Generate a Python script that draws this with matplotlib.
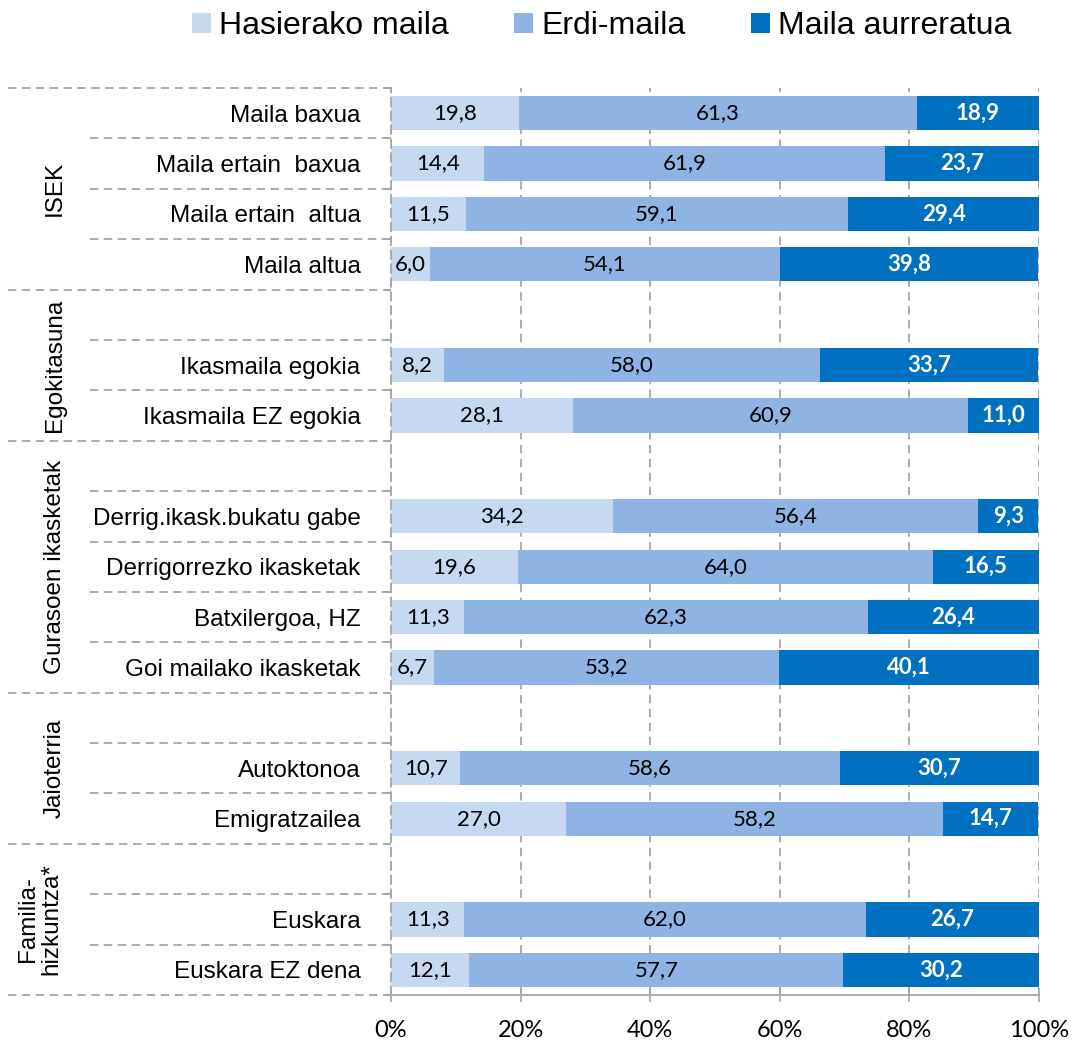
import matplotlib
matplotlib.use('Agg')
import matplotlib.pyplot as plt
import numpy as np
from matplotlib.patches import Patch
from matplotlib.transforms import blended_transform_factory

plt.rcParams['lines.scale_dashes'] = False

categories = ["Maila baxua", "Maila ertain  baxua", "Maila ertain  altua", "Maila altua", "",
              "Ikasmaila egokia", "Ikasmaila EZ egokia", "",
              "Derrig.ikask.bukatu gabe", "Derrigorrezko ikasketak", "Batxilergoa, HZ",
              "Goi mailako ikasketak", "",
              "Autoktonoa", "Emigratzailea", "",
              "Euskara", "Euskara EZ dena"]
nan = np.nan
hasierako = [19.8, 14.4, 11.5, 6.0, nan, 8.2, 28.1, nan, 34.2, 19.6, 11.3, 6.7, nan, 10.7, 27.0, nan, 11.3, 12.1]
erdi = [61.3, 61.9, 59.1, 54.1, nan, 58.0, 60.9, nan, 56.4, 64.0, 62.3, 53.2, nan, 58.6, 58.2, nan, 62.0, 57.7]
aurreratua = [18.9, 23.7, 29.4, 39.8, nan, 33.7, 11.0, nan, 9.3, 16.5, 26.4, 40.1, nan, 30.7, 14.7, nan, 26.7, 30.2]
series_names = ["Hasierako maila", "Erdi-maila", "Maila aurreratua"]
group_names = ["ISEK", "Egokitasuna", "Gurasoen ikasketak", "Jaioterria", "Familia-\nhizkuntza*"]
group_sizes = [4, 3, 5, 3, 3]
xticks = [0, 20, 40, 60, 80, 100]

colors = ["#C6D9F1", "#8EB4E3", "#0070C0"]
text_colors = ["black", "black", "white"]
weights = ["normal", "normal", "bold"]
grid_color = "#A6A6A6"
label_font = "Liberation Sans"
num_font = "Lato"

W, H = 1077, 1043
fig = plt.figure(figsize=(W / 100, H / 100), dpi=100)
ax = fig.add_axes([391 / W, 1 - 995 / H, 648 / W, 907 / H])

y = np.arange(len(categories))
left = np.zeros(len(categories))
for vals, name, c, tc, fw in zip([hasierako, erdi, aurreratua], series_names, colors, text_colors, weights):
    v = np.array(vals, dtype=float)
    bars = ax.barh(y, v, left=left, height=0.68, color=c, label=name, zorder=2)
    labs = ["" if np.isnan(x) else f"{x:.1f}".replace(".", ",") for x in v]
    ax.bar_label(bars, labels=labs, label_type="center", color=tc, fontweight=fw,
                 fontsize=16, family=num_font, zorder=3)
    left = left + np.nan_to_num(v)

ax.set_xlim(0, 100)
ax.set_ylim(len(categories) - 0.5, -0.5)
ax.set_xticks(xticks)
ax.set_xticklabels([f"{t}%" for t in xticks], family=num_font, fontsize=17)
ax.set_yticks(y)
ax.set_yticklabels(categories, family=label_font, fontsize=17.5)
ax.tick_params(axis="y", which="major", length=0, pad=22)
ax.tick_params(axis="x", which="major", direction="inout", length=10, color=grid_color, width=1.2, pad=13)

# boundaries
bounds = np.cumsum([0] + group_sizes)
ax.set_yticks(np.arange(len(categories) + 1) - 0.5, minor=True)
ax.tick_params(axis="y", which="minor", length=5, color=grid_color, width=1.2)

ax.grid(axis="x", color=grid_color, linestyle=(0, (6, 4)), linewidth=1.3, zorder=0)
ax.set_axisbelow(True)
for s in ["top", "right"]:
    ax.spines[s].set_visible(False)
ax.spines["left"].set_color(grid_color)
ax.spines["left"].set_linestyle((0, (6, 4)))
ax.spines["left"].set_linewidth(1.3)
ax.spines["bottom"].set_color(grid_color)
ax.spines["bottom"].set_linewidth(1.3)

tr = blended_transform_factory(ax.transAxes, ax.transData)
x_group = (8 - 391) / 648
x_row = (90 - 391) / 648
for b in bounds:
    ax.plot([x_group, 0], [b - 0.5, b - 0.5], transform=tr, clip_on=False,
            color=grid_color, linestyle=(0, (6, 4)), linewidth=1.3)
for s, n in zip(bounds[:-1], group_sizes):
    for k in range(1, n):
        ax.plot([x_row, 0], [s + k - 0.5, s + k - 0.5], transform=tr, clip_on=False,
                color=grid_color, linestyle=(0, (6, 4)), linewidth=1.3)

for name, s, n in zip(group_names, bounds[:-1], group_sizes):
    xc = (55 - 391) / 648 if "\n" not in name else (40 - 391) / 648
    ax.text(xc, s + (n - 1) / 2, name, transform=tr, rotation=90, ha="center", va="center",
            family=label_font, fontsize=17.5, multialignment="center", linespacing=1.1)

handles = [Patch(facecolor=c, label=n) for c, n in zip(colors, series_names)]
fig.legend(handles=handles, loc="center", bbox_to_anchor=(0.5585, 1 - 26 / H), ncol=3,
           frameon=False, prop={"family": label_font, "size": 23},
           handlelength=0.6, handleheight=0.6, handletextpad=0.25, columnspacing=2.05)

fig.savefig("out.png", dpi=100)
